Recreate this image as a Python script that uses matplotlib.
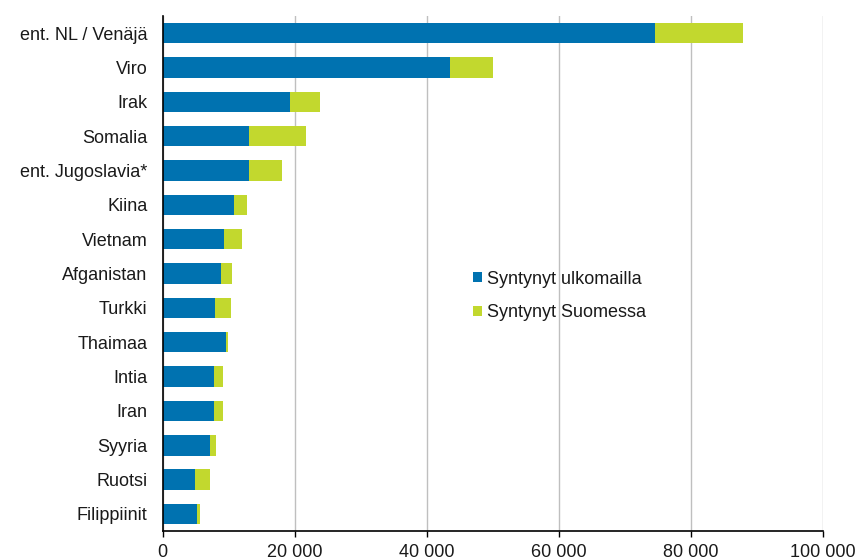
import matplotlib
matplotlib.use("Agg")
import matplotlib.pyplot as plt
from matplotlib.patches import Patch

countries = ["ent. NL / Venäjä", "Viro", "Irak", "Somalia", "ent. Jugoslavia*", "Kiina",
             "Vietnam", "Afganistan", "Turkki", "Thaimaa", "Intia", "Iran", "Syyria",
             "Ruotsi", "Filippiinit"]
born_abroad = [74600, 43500, 19300, 13000, 13000, 10800, 9300, 8900, 7900, 9600,
               7700, 7700, 7200, 4950, 5200]
born_finland = [13400, 6600, 4600, 8700, 5100, 1900, 2700, 1600, 2400, 250,
                1400, 1400, 900, 2250, 450]
series_names = ["Syntynyt ulkomailla", "Syntynyt Suomessa"]
xticks = [0, 20000, 40000, 60000, 80000, 100000]
xticklabels = ["0", "20 000", "40 000", "60 000", "80 000", "100 000"]

blue = "#0072B0"
green = "#C2D82E"

plt.rcParams['font.family'] = ['Liberation Sans', 'DejaVu Sans']
fs = 13

fig = plt.figure(figsize=(8.61, 5.59), dpi=100)
ax = fig.add_axes([0.189, 0.050, 0.7665, 0.9214])

y = list(range(len(countries)))
ax.barh(y, born_abroad, height=0.6, color=blue, zorder=3)
ax.barh(y, born_finland, left=born_abroad, height=0.6, color=green, zorder=3)

ax.set_ylim(len(countries) - 0.5, -0.5)
ax.set_xlim(0, 100000)
ax.set_yticks(y)
ax.set_yticklabels(countries, fontsize=fs, color='#1a1a1a')
ax.set_xticks(xticks)
ax.set_xticklabels(xticklabels, fontsize=fs, color='#1a1a1a')
ax.tick_params(axis='y', length=0, pad=11)
ax.tick_params(axis='x', length=4, width=1, direction='out', pad=5, color='black')

ax.grid(axis='x', color='#BFBFBF', linewidth=1, zorder=0)
for s in ['top', 'right']:
    ax.spines[s].set_visible(False)
for s in ['left', 'bottom']:
    ax.spines[s].set_color('black')
    ax.spines[s].set_linewidth(1.2)
    ax.spines[s].set_zorder(4)

handles = [Patch(facecolor=blue, label=series_names[0]),
           Patch(facecolor=green, label=series_names[1])]
leg = fig.legend(handles=handles, loc='upper left', bbox_to_anchor=(0.5305, 0.545),
                 frameon=False, fontsize=fs, handlelength=0.5, handleheight=0.5,
                 handletextpad=0.3, labelspacing=0.93)
for t in leg.get_texts():
    t.set_color('#1a1a1a')

fig.savefig("out.png", dpi=100)
